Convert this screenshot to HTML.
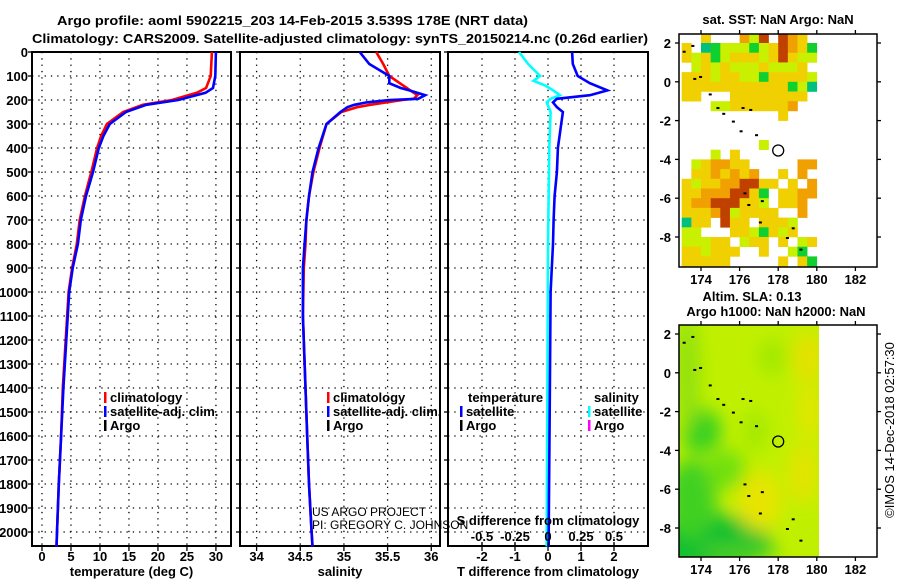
<!DOCTYPE html>
<html><head><meta charset="utf-8"><style>
html,body{margin:0;padding:0;background:#fff;}
svg{display:block;font-family:"Liberation Sans",Arial,sans-serif;}
.b{font-weight:bold;font-size:13px;}
</style></head><body>
<svg id="c" width="900" height="580" viewBox="0 0 900 580"></svg>
<script>
// ---- data ----
const depthTicks=[0,100,200,300,400,500,600,700,800,900,1000,1100,1200,1300,1400,1500,1600,1700,1800,1900,2000];
const tempTicks=[0,5,10,15,20,25,30];
const salTicks=[34,34.5,35,35.5,36];
const salTickLabels=["34","34.5","35","35.5","36"];
const tdTicks=[-2,-1,0,1,2];
const sdTicks=[-0.5,-0.25,0,0.25,0.5];
const sdTickLabels=["-0.5","-0.25","0","0.25","0.5"];
const tempDepth=[0,100,150,170,200,220,250,300,350,400,500,600,700,800,900,1000,1200,1400,1600,1800,2000,2060];
const tempClim=[29.3,29.1,28.3,26.7,22.4,17.4,14.0,11.2,10.2,9.5,8.5,7.4,6.5,6.0,5.2,4.6,4.1,3.6,3.3,2.9,2.6,2.5];
const tempSat=[30.0,29.9,29.5,28.2,23.5,18.0,14.5,11.7,10.6,9.8,8.8,7.6,6.7,6.2,5.3,4.7,4.2,3.7,3.3,2.9,2.6,2.5];
const salDepth=[0,50,100,130,150,160,180,195,200,210,220,230,250,300,400,500,600,700,800,900,1100,1400,1600,1800,2000,2060];
const salClim=[35.37,35.45,35.52,35.64,35.72,35.76,35.84,35.8,35.67,35.49,35.3,35.15,34.97,34.8,34.72,34.65,34.6,34.57,34.56,34.54,34.53,34.56,34.58,34.6,34.63,34.64];
const salSat=[35.18,35.29,35.52,35.52,35.65,35.75,35.93,35.85,35.52,35.26,35.12,35.04,34.96,34.8,34.71,34.64,34.6,34.57,34.55,34.53,34.53,34.56,34.58,34.6,34.63,34.64];
const tdDepth=[0,50,100,130,160,180,195,210,230,250,300,400,500,600,700,800,1000,1500,2000,2060];
const tdSat=[0.73,0.75,0.9,1.27,1.8,1.27,0.27,0.15,0.27,0.45,0.4,0.3,0.27,0.2,0.17,0.15,0.08,0.05,0.02,0.02];
const sdDepth=[0,50,100,120,140,160,180,195,210,250,400,800,1500,2000,2060];
const sdSat=[-0.22,-0.15,-0.06,-0.11,-0.02,0.04,0.09,0.02,-0.01,0.02,0.01,0,-0.005,-0.01,-0.01];
const sstGrid=[
"..y...olr.roy.",
"y.tglllglyroyg",
"ylyglyyylyryll",
".lylylllyllly.",
"yyylyyllgyyyyl",
"yyyyyyyyyyyglt",
"yy...yyyyyyyy.",
"...llyyyyyyo..",
"..........y...",
"..............",
"..............",
"........l.....",
"...l.y........",
".lyooyy.....oo",
".yyoyoyo..y.o.",
"ylyyoorryy.y.o",
"yyooorryg.yyoo",
"yoorrryyl.yyo.",
"yyyorlyyyy..o.",
"tyy.ryy.yyyl..",
"ll...yylgyly..",
"lllyy.lyy.y.ly",
"yylyyy..y..lg.",
"yyyyy.....y.yg"];
const sstColors={y:"#f0d000",l:"#c8f000",o:"#f0a000",r:"#c04000",g:"#10d030",t:"#00c080"};
const mapLonTicks=[174,176,178,180,182];
const mapLatTicks=[2,0,-2,-4,-6,-8];
const floatLon=178, floatLat=-3.54;

const S=document.getElementById('c');
const NS="http://www.w3.org/2000/svg";
function el(tag,attrs,parent){const e=document.createElementNS(NS,tag);for(const k in attrs)e.setAttribute(k,attrs[k]);(parent||S).appendChild(e);return e;}
function txt(str,x,y,anchor,cls,parent){const t=el('text',{x:x,y:y,'text-anchor':anchor||'middle'},parent);if(cls)t.setAttribute('class',cls);t.textContent=str;return t;}

const pTop=52,pBot=546;
const yD=d=>pTop+d*0.24;

const panels=[
 {x0:32,x1:231,vmin:-1.72,vmax:32.6,ticks:tempTicks,labels:tempTicks.map(String),title:"temperature (deg C)",name:"temperature-panel"},
 {x0:240,x1:440,vmin:33.81,vmax:36.1,ticks:salTicks,labels:salTickLabels,title:"salinity",name:"salinity-panel"},
 {x0:448,x1:648,vmin:-3.03,vmax:3.03,ticks:tdTicks,labels:tdTicks.map(String),title:"T difference from climatology",name:"difference-panel"}
];
panels.forEach((p,i)=>{
 const g=el('g',{});
 
 
 p.xs=v=>p.x0+(v-p.vmin)/(p.vmax-p.vmin)*(p.x1-p.x0);
 depthTicks.forEach(d=>{const l=el('line',{x1:p.x0,x2:p.x1,y1:yD(d),y2:yD(d),stroke:'#000','stroke-width':1.3,'stroke-dasharray':'1.3,5'},g);
  
  });
 p.ticks.forEach((t,k)=>{const x=p.xs(t);
  const l=el('line',{x1:x,x2:x,y1:pTop,y2:pBot,stroke:'#000','stroke-width':1.3,'stroke-dasharray':'1.3,5'},g);
  
  
  el('line',{x1:x,x2:x,y1:pBot,y2:pBot+5,stroke:'#000','stroke-width':1.3},g);
  const tl=txt(p.labels[k],x,561,'middle','b',g);
  
  
 });
 const fr=el('rect',{x:p.x0,y:pTop,width:p.x1-p.x0,height:pBot-pTop,fill:'none',stroke:'#000','stroke-width':2},g);
 
 
 depthTicks.forEach(d=>{el('line',{x1:p.x0-4,x2:p.x0,y1:yD(d),y2:yD(d),stroke:'#000','stroke-width':1.3},g);});
 const at=txt(p.title,(p.x0+p.x1)/2,576,'middle','b',g);
 
 
});
depthTicks.forEach(d=>{const t=txt(String(d),28,yD(d)+5,'end','b');
 
 });

function drawLine(p,vals,depths,color,name,w){
 const pts=vals.map((v,i)=>p.xs(v).toFixed(1)+','+yD(depths[i]).toFixed(1)).join(' ');
 const l=el('polyline',{points:pts,fill:'none',stroke:color,'stroke-width':w||2.6});
 
 
}
drawLine(panels[0],tempClim,tempDepth,'#f00','temperature-climatology-line');
drawLine(panels[0],tempSat,tempDepth,'#00f','temperature-satellite-line');
drawLine(panels[1],salClim,salDepth,'#f00','salinity-climatology-line');
drawLine(panels[1],salSat,salDepth,'#00f','salinity-satellite-line');
drawLine(panels[2],sdSat.map(v=>v*4),sdDepth,'#0ff','salinity-difference-line');
drawLine(panels[2],tdSat,tdDepth,'#00f','temperature-difference-line');

const p3=panels[2];
sdTicks.forEach((s,k)=>{const x=p3.xs(s*4);
 el('line',{x1:x,x2:x,y1:pBot-4,y2:pBot,stroke:'#000','stroke-width':1.3});
 const t=txt(sdTickLabels[k],x,541,'middle','b');
 
 });
let st=txt("S difference from climatology",548,525,'middle','b');



function legEntry(x,y,color,label,name){
 const g=el('g',{});
 
 
 el('rect',{x:x,y:y-10,width:2.5,height:11,fill:color},g);
 txt(label,x+6,y,'start','b',g);
}
legEntry(104,402,'#f00','climatology','legend-entry-climatology');
legEntry(104,416,'#00f','satellite-adj. clim.','legend-entry-satellite-adj');
legEntry(104,430,'#000','Argo','legend-entry-argo');
legEntry(327,402,'#f00','climatology','legend-entry-climatology-sal');
legEntry(327,416,'#00f','satellite-adj. clim.','legend-entry-satellite-adj-sal');
legEntry(327,430,'#000','Argo','legend-entry-argo-sal');
let lt=txt('temperature',468,402,'start','b');


legEntry(460,416,'#00f','satellite','legend-entry-t-satellite');
legEntry(460,430,'#000','Argo','legend-entry-t-argo');
let ls=txt('salinity',594,402,'start','b');


legEntry(588,416,'#0ff','satellite','legend-entry-s-satellite');
legEntry(588,430,'#f0f','Argo','legend-entry-s-argo');

let c1=txt('US ARGO PROJECT',312,516,'start','');
c1.setAttribute('font-size','12');


let c2=txt('PI: GREGORY C. JOHNSON',312,529,'start','');
c2.setAttribute('font-size','12');



let t1=txt('Argo profile: aoml 5902215_203 14-Feb-2015 3.539S 178E (NRT data)',57,25,'start','b');
t1.setAttribute('font-size','14');
t1.setAttribute('textLength','471');
t1.setAttribute('lengthAdjust','spacingAndGlyphs');


let t2=txt('Climatology: CARS2009. Satellite-adjusted climatology: synTS_20150214.nc (0.26d earlier)',32,43,'start','b');
t2.setAttribute('font-size','14');
t2.setAttribute('textLength','616');
t2.setAttribute('lengthAdjust','spacingAndGlyphs');



function makeMap(y0,y1,name){
 const m={x0:679,x1:877,y0:y0,y1:y1};
 m.lx=lon=>701+(lon-174)*19.3;
 m.ly=lat=>y0+9+(2-lat)*19.4;
 const g=el('g',{});
 
 
 m.g=g;
 const cp=el('clipPath',{id:name+'-clip'},g);
 el('rect',{x:m.x0,y:y0,width:m.x1-m.x0,height:y1-y0},cp);
 m.inner=el('g',{'clip-path':'url(#'+name+'-clip)'},g);
 return m;
}
function finishMap(m,labelY){
 const g=m.g;
 const fr=el('rect',{x:m.x0,y:m.y0,width:m.x1-m.x0,height:m.y1-m.y0,fill:'none',stroke:'#000','stroke-width':1.5},g);
 
 
 mapLonTicks.forEach(lon=>{const x=m.lx(lon);
  el('line',{x1:x,x2:x,y1:m.y1,y2:m.y1+4,stroke:'#000','stroke-width':1.3},g);
  el('line',{x1:x,x2:x,y1:m.y0,y2:m.y0-4,stroke:'#000','stroke-width':1.3},g);
  const t=txt(String(lon),x,labelY,'middle','b',g);
  
  });
 mapLatTicks.forEach(lat=>{const y=m.ly(lat);
  el('line',{x1:m.x0-4,x2:m.x0,y1:y,y2:y,stroke:'#000','stroke-width':1.3},g);
  el('line',{x1:m.x1,x2:m.x1+4,y1:y,y2:y,stroke:'#000','stroke-width':1.3},g);
  const t=txt(String(lat),671,y+5,'end','b',g);
  
  });
 [[173.5,1.9],[173.6,0.2],[173.9,0.3],[174.4,-0.6],[174.8,-1.3],[175.1,-1.6],[175.6,-2.0],[176.0,-2.5],[176.1,-1.3],[176.5,-1.4],[176.8,-2.7],[176.2,-5.7],[176.4,-6.3],[177.1,-6.1],[177.0,-7.2],[178.4,-8.0],[178.7,-7.5],[179.1,-8.6],[173.05,1.6]].forEach(c=>{
  const d=el('rect',{x:m.lx(c[0]),y:m.ly(c[1]),width:3,height:2,fill:'#000'},g);
  
  });
 const ci=el('circle',{cx:m.lx(floatLon),cy:m.ly(floatLat),r:5.5,fill:'none',stroke:'#000','stroke-width':1.3},g);
 
 
}
const m1=makeMap(34,267,'sst-map');
sstGrid.forEach((row,r)=>{
 for(let k=0;k<14;k++){const ch=row[k];if(!ch||ch==='.')continue;
  const lon=173+k*0.5, lat=2.5-r*0.5;
  const x0=m1.lx(lon),x1=m1.lx(lon+0.5),ya=m1.ly(lat),yb=m1.ly(lat-0.5);
  const c=el('rect',{x:x0,y:ya,width:x1-x0+0.3,height:yb-ya+0.3,fill:sstColors[ch]},m1.inner);
  
  }
});
finishMap(m1,284);
let mt1=txt('sat. SST: NaN Argo: NaN',778,24,'middle','b');



const m2=makeMap(325,557,'sla-map');
const defs=el('defs',{});
const f=el('filter',{id:'blur',x:'-50%',y:'-50%',width:'200%',height:'200%'},defs);
el('feGaussianBlur',{stdDeviation:9},f);
const bg=el('rect',{x:679,y:325,width:819-679,height:232,fill:'#c0f000'},m2.inner);


const blobClip=el('clipPath',{id:'sla-data-clip'},defs);
el('rect',{x:679,y:325,width:140,height:232},blobClip);
const blobWrap=el('g',{'clip-path':'url(#sla-data-clip)'},m2.inner);
const blobs=el('g',{filter:'url(#blur)'},blobWrap);
[[174.5,-8.8,60,30,'#10c030'],[173.5,-6.5,25,40,'#40d020'],[174,-3,20,22,'#30d020'],[173.3,0,12,60,'#90e010'],[175.3,-5,20,20,'#70e010'],[177.0,-6.6,22,30,'#e8e400'],[179.3,-5.2,15,30,'#e4e400'],[179.5,0.8,14,25,'#e8e000'],[177.7,0.8,14,18,'#a0e800'],[176.8,-3.0,12,20,'#a0e800'],[179.6,-2,10,30,'#e8e400'],[176,-9.3,40,8,'#50d020']].forEach(b=>{
 el('ellipse',{cx:m2.lx(b[0]),cy:m2.ly(b[1]),rx:b[2],ry:b[3],fill:b[4]},blobs);});
finishMap(m2,574);
let mt2=txt('Altim. SLA: 0.13',752,301,'middle','b');


let mt3=txt('Argo h1000: NaN h2000: NaN',776,316,'middle','b');



let cr=txt('©IMOS 14-Dec-2018 02:57:30',0,0,'middle','');
cr.setAttribute('font-size','13');
cr.setAttribute('transform','translate(894,430) rotate(-90)');


</script>
</body></html>
